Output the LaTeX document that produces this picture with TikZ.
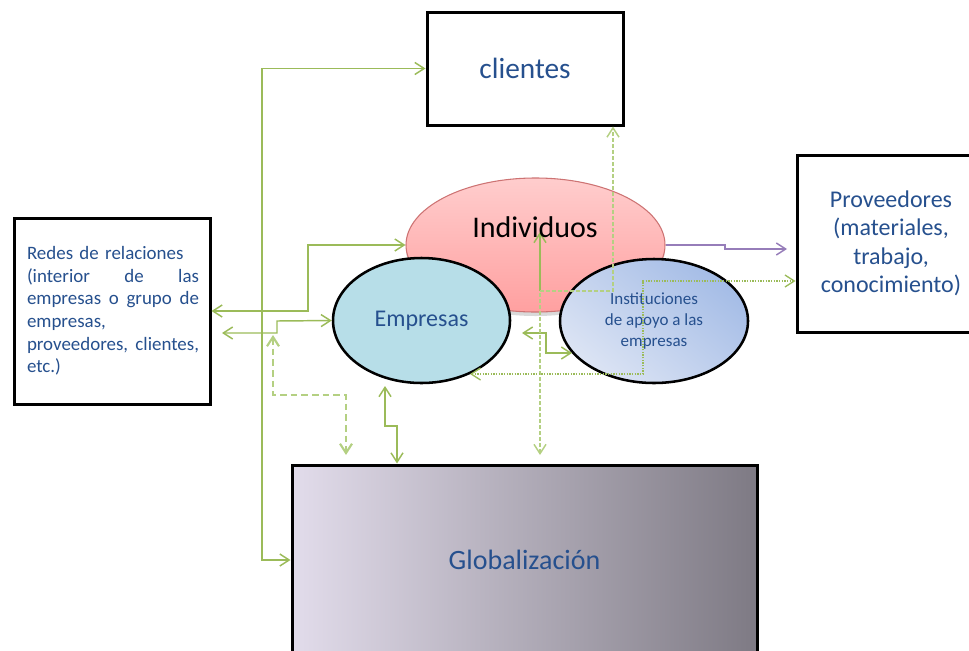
\documentclass[tikz,border=0pt]{standalone}
\usepackage{fontspec}
\setmainfont{Carlito}
\usetikzlibrary{shapes.geometric,arrows.meta,shadows}
\definecolor{verde}{RGB}{155,187,89}
\definecolor{verdeclaro}{RGB}{180,208,130}
\definecolor{azultxt}{RGB}{38,80,142}
\definecolor{lila}{RGB}{150,125,185}
\definecolor{celeste}{RGB}{183,222,232}
\definecolor{rosa}{RGB}{255,205,205}
\definecolor{rosafuerte}{RGB}{255,160,160}
\definecolor{bordrosa}{RGB}{205,115,115}
\definecolor{azulclaro}{RGB}{220,228,244}
\definecolor{azulmedio}{RGB}{164,188,230}
\definecolor{glclaro}{RGB}{226,220,235}
\definecolor{gloscuro}{RGB}{126,122,132}
\begin{document}
\begin{tikzpicture}[x=0.75pt, y=-0.75pt,
        caja/.style = {rectangle, draw, line width=2.25pt, inner sep=0pt},
        elipse/.style = {ellipse, draw, line width=1.9pt, inner sep=0pt},
        enlace/.style = {draw=verde, line width=1.1pt},
        >={Straight Barb[length=7pt,width=9pt]}]
        \useasboundingbox (0,0) rectangle (969,650);
        \clip (0,0) rectangle (969,650);
        % cajas
        \node[caja, fill=white, minimum width=147pt, minimum height=84.75pt] (cli) at (525,68.5) {};
        \node[caja, fill=white, minimum width=141pt, minimum height=132.75pt] (prov) at (891,243.5) {};
        \node[caja, fill=white, minimum width=147pt, minimum height=139.5pt] (redes) at (112,311) {};
        \node[caja, left color=glclaro, right color=gloscuro, minimum width=348.75pt, minimum height=142.5pt] (glob) at (524.5,560) {};
        \begin{scope}[every node/.append style = {text=azultxt}]
            \node (clitxt) at (525,68.5) {\fontsize{22}{26}\selectfont clientes};
            \node (globtxt) at (524.5,560) {\fontsize{21}{25}\selectfont Globalización};
            \node[align=center, font=\fontsize{18}{21.4}\selectfont] (provtxt) at (891,243.5)
                {Proveedores\\(materiales,\\trabajo,\\conocimiento)};
            \node[text width=129pt, align=left, inner sep=0pt, font=\fontsize{14.2}{17}\selectfont] (redestxt) at (113,311)
                {Redes de relaciones\\
                (interior\hfill de\hfill las\\
                empresas\hfill o\hfill grupo\hfill de\\
                empresas,\\
                proveedores,\hfill clientes,\\
                etc.)};
        \end{scope}
        % elipses
        \node[ellipse, draw=bordrosa, line width=0.8pt, top color=rosa, bottom color=rosafuerte,
            drop shadow={shadow xshift=0pt, shadow yshift=-3pt, opacity=0.3},
            minimum width=194.25pt, minimum height=100.5pt] (ind) at (535.5,245) {};
        \node[elipse, fill=celeste, minimum width=132.75pt, minimum height=93.75pt,
            text=azultxt, font=\fontsize{18}{21}\selectfont] (emp) at (421.5,320.5) {Empresas};
        \node[elipse, top color=azulmedio, bottom color=azulclaro, shading angle=-40,
            minimum width=141pt, minimum height=93pt, text=azultxt, align=center,
            font=\fontsize{12.75}{15.75}\selectfont] (inst) at (654,321) {Instituciones\\de apoyo a las\\empresas};
        % enlaces
        \coordinate (c1) at (222,333);
        \coordinate (c2) at (273,335);
        \coordinate (c3) at (346,455);
        \coordinate (c4) at (385,386);
        \coordinate (c5) at (540,455);
        \coordinate (c6) at (522,333);
        \coordinate (c7) at (572,353);
        \coordinate (c8) at (470,374);
        \begin{scope}[style = enlace]
            \draw[<->] (cli.west) -| (262,560) -- (glob.west);
            \draw[<->] (redes.east) -| (308,245) -- (ind.west);
            \draw[<->] (c1) -| (277,321) -- (emp.west);
            \draw[<->] (c4) |- (397,426) -- (glob.north -| 397,0);
            \draw[<->] (c6) -| (546,353) -- (c7);
            \draw[->] (540,291) -- (540,232);
        \end{scope}
        \draw[<->, draw=verdeclaro, line width=1.6pt, dash pattern=on 5pt off 3pt] (c2) |- (346,395) -- (c3);
        \draw[<->, draw=verdeclaro, line width=1.1pt, dash pattern=on 3pt off 1.5pt] (c5) |- (613,291) -- (cli.south -| 613,0);
        \draw[<->, draw=verde, line width=1pt, dash pattern=on 1pt off 1pt] (c8) -| (643,281) -- (prov.west |- 0,281);
        \draw[->, draw=lila, line width=1.1pt] (ind.east) -- (725,245) |- (787,249);
        \node (indtxt) at (535,227) {\fontsize{22.5}{26}\selectfont Individuos};
    \end{tikzpicture}
\end{document}
